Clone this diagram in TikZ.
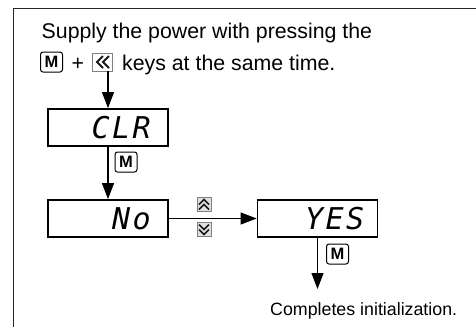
\documentclass[tikz,border=0pt]{standalone}
\usepackage{fontspec}
\setmainfont{Liberation Sans}
\newfontfamily\segfont{DejaVu Sans Mono}[LetterSpace=8]
\usetikzlibrary{arrows.meta}
\begin{document}
\begin{tikzpicture}[x=1pt,y=-1pt,
  disp/.style={draw, line width=1.8pt, minimum width=120pt, minimum height=37pt, inner sep=0pt},
  mkey/.style={draw, line width=1pt, fill=white, rounded corners=2.5pt, minimum width=22pt, minimum height=20pt, inner sep=0pt, font=\fontsize{16.5}{16.5}\selectfont\bfseries},
  lkey/.style={draw=black!50, line width=0.8pt, minimum width=20pt, minimum height=18pt, inner sep=0pt},
  skey/.style={draw=black!50, fill=black!12, line width=0.8pt, minimum width=14pt, minimum height=14pt, inner sep=0pt},
  chev/.style={line width=1.8pt, line join=miter, draw=black!90},
  conn/.style={line width=1.1pt, -{Triangle[length=16pt,width=12pt]}},
  txt/.style={font=\fontsize{21.3}{24}\selectfont, inner sep=0pt, anchor=base west},
  seg/.style={font=\fontsize{30}{30}\segfont\itshape, inner sep=0pt, anchor=east}
]
\useasboundingbox (0,0) rectangle (476,327);
\draw[line width=1.3pt, draw=black!85] (13.5,327) -- (13.5,8.5) -- (476,8.5);

% heading
\node[txt] (l1) at (41.5,38) {Supply the power with pressing the};
\node[mkey] (k1) at (51.5,62) {M};
\node[txt] (plus) at (71.5,70) {+};
\node[lkey] (k2) at (102,62) {};
\begin{scope}[shift={(k2.center)}]
  \draw[chev] (1,-6) -- (-5,0) -- (1,6);
  \draw[chev] (7,-6) -- (1,0) -- (7,6);
\end{scope}
\node[txt] (l2) at (122,70) {keys at the same time.};

% displays
\node[disp] (clr) at (108,127.5) {};
\node[seg] (clrt) at ([xshift=-18pt]clr.east) {CLR};
\node[disp] (no) at (108,218.5) {};
\node[seg] (not) at ([xshift=-18pt]no.east) {No};
\node[disp] (yes) at (317.5,218.5) {};
\node[seg] (yest) at ([xshift=-14pt]yes.east) {YES};

% connectors
\draw[conn] (clr.north |- k2.south) -- (clr.north);
\draw[conn] (clr) -- (no);
\draw[conn] (no) -- (yes);
\coordinate (fin) at (317.5,289);
\draw[conn] (yes) -- (fin);

% key labels
\node[mkey] (m2) at (126,162) {M};
\node[skey] (up) at (204,204.5) {};
\begin{scope}[shift={(up.center)}]
  \draw[chev, line width=1.5pt] (-5,0) -- (0,-5) -- (5,0);
  \draw[chev, line width=1.5pt] (-5,5) -- (0,0) -- (5,5);
\end{scope}
\node[skey] (down) at (204,229.5) {};
\begin{scope}[shift={(down.center)}]
  \draw[chev, line width=1.5pt] (-5,-5) -- (0,0) -- (5,-5);
  \draw[chev, line width=1.5pt] (-5,0) -- (0,5) -- (5,0);
\end{scope}
\node[mkey] (m3) at (337.5,254) {M};

\node[font=\fontsize{17.8}{20}\selectfont, inner sep=0pt, anchor=base west] (done) at (270,315) {Completes initialization.};
\end{tikzpicture}
\end{document}
